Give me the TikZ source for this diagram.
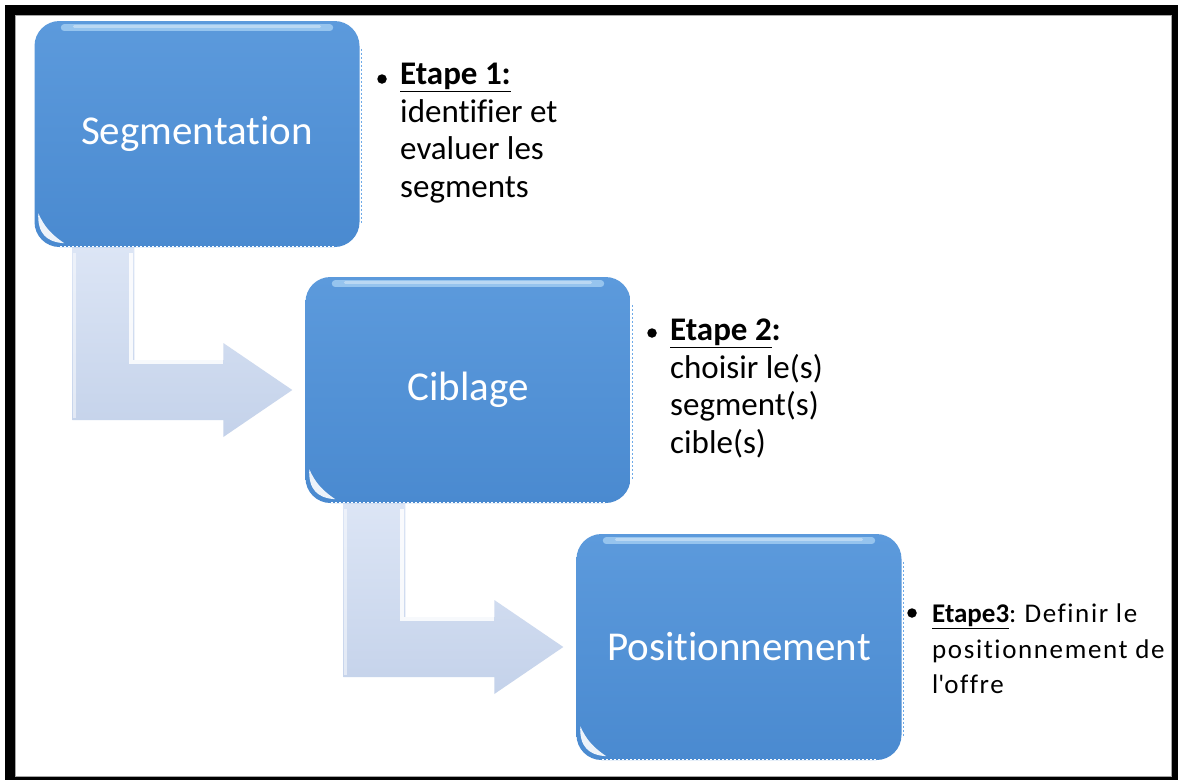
\documentclass[tikz,border=0pt]{standalone}
\usepackage{fontspec}
\setmainfont{Carlito}[Ligatures={NoCommon,NoContextual,NoRequired}]
\usetikzlibrary{calc,backgrounds}

\definecolor{boxtop}{RGB}{92,154,220}
\definecolor{boxbot}{RGB}{74,138,208}
\definecolor{linktop}{RGB}{220,229,245}
\definecolor{linkbot}{RGB}{196,210,234}
\definecolor{edgeblue}{RGB}{110,170,232}
\definecolor{glossblue}{RGB}{190,225,250}

\tikzset{
  x=1pt, y=-1pt,
  stepbox/.style={rounded corners=25pt, minimum width=325pt, minimum height=226pt,
    top color=boxtop, bottom color=boxbot, text=white, inner sep=0pt,
    font=\fontsize{41}{49}\selectfont},
  sidetext/.style={align=left, inner sep=0pt, anchor=north west,
    font=\fontsize{33}{37.5}\selectfont},
  bulletmark/.style={circle, fill=black, inner sep=0pt, minimum size=9.5pt},
  linkfill/.style={top color=linktop, bottom color=linkbot},
}

% gloss and edge details on a step box
\newcommand\boxgloss[1]{%
  \draw[glossblue, opacity=0.6, line width=7pt, line cap=round]
    ($(#1.north west)+(30,7)$) -- ($(#1.north east)+(-30,7)$);
  \draw[white, opacity=0.35, line width=3pt, line cap=round]
    ($(#1.north west)+(40,6)$) -- ($(#1.north east)+(-40,6)$);
  \fill[white, opacity=0.9]
    ($(#1.south west)+(4,-34)$) .. controls ($(#1.south west)+(3,-14)$)
      and ($(#1.south west)+(12,-5)$) .. ($(#1.south west)+(30,-4)$)
      .. controls ($(#1.south west)+(18,-12)$) and ($(#1.south west)+(10,-20)$)
      .. cycle;
  \draw[edgeblue, line width=1.2pt, dash pattern=on 2pt off 2pt]
    ($(#1.north east)+(2,28)$) -- ($(#1.south east)+(2,-24)$);
  \draw[white, line width=1pt, dash pattern=on 2pt off 2pt]
    ($(#1.south west)+(26,-1)$) -- ($(#1.south east)+(-26,-1)$);
}

% bent arrow leading from the bottom of one box to the left side of the next
\newcommand\bentlink[2]{%
  \path[linkfill] let \p1=(#1.south west), \p2=(#2.west) in
    (\x1+38pt,\y1) -- (\x1+100pt,\y1) -- (\x1+100pt,\y2+30pt)
    -- (\x2-82pt,\y2+30pt) -- (\x2-82pt,\y2+47pt) -- (\x2-13pt,\y2)
    -- (\x2-82pt,\y2-47pt) -- (\x2-82pt,\y2-30pt) -- (\x1+38pt,\y2-30pt) -- cycle;
  \draw[white, opacity=0.85, line width=4pt] let \p1=(#1.south west), \p2=(#2.west) in
    (\x1+97pt,\y1-6pt) -- (\x1+97pt,\y2+28pt) -- (\x2-82pt,\y2+28pt);
  \draw[white, opacity=0.5, line width=3pt] let \p1=(#1.south west), \p2=(#2.west) in
    (\x1+40pt,\y1-6pt) -- (\x1+40pt,\y2-28pt);
}

\begin{document}
\begin{tikzpicture}
\useasboundingbox (0,0) rectangle (1178,780);

% frame
\begin{scope}[on background layer]
  \fill[black] (5,5) rectangle (1178,780);
  \fill[white] (15,15) rectangle (1172,777);
  \draw[gray!70, line width=1pt] (15.5,15.5) rectangle (1171.5,776.5);
\end{scope}

% steps
\node[stepbox] (seg) at (197,134) {Segmentation};
\node[stepbox] (cib) at (468,390) {Ciblage};
\node[stepbox] (pos) at (739,647) {Positionnement};
\boxgloss{seg}
\boxgloss{cib}
\boxgloss{pos}

% links between steps
\begin{scope}[on background layer]
  \bentlink{seg}{cib}
  \bentlink{cib}{pos}
\end{scope}

% descriptions
\node[bulletmark] (b1) at (382,79) {};
\node[sidetext] (t1) at (400,63)
  {\textbf{\underline{Etape 1:}}\\identifier et\\evaluer les\\segments};

\node[bulletmark] (b2) at (652,333) {};
\node[sidetext] (t2) at (670,319)
  {\textbf{\underline{Etape 2}}\textbf{:}\\choisir le(s)\\segment(s)\\cible(s)};

\node[bulletmark] (b3) at (912,613) {};
\node[sidetext, font=\fontsize{27}{35.5}\selectfont] (t3) at (932,604)
  {\textbf{\underline{Etape3}}: {\addfontfeatures{LetterSpace=6}Definir le}\\
   {\addfontfeatures{LetterSpace=6}positionnement de}\\
   {\addfontfeatures{LetterSpace=6}l\textquotesingle offre}};
\end{tikzpicture}
\end{document}
